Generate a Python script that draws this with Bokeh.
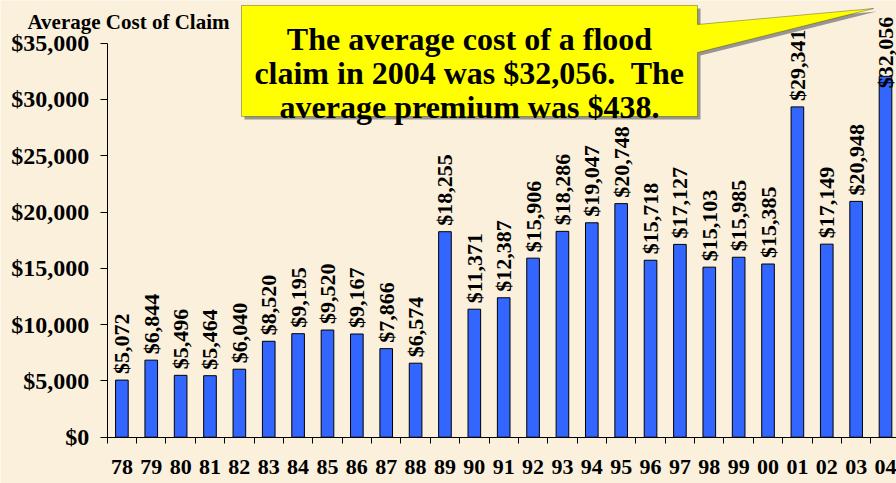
import numpy as np
from bokeh.plotting import figure
from bokeh.models import ColumnDataSource, FixedTicker, NumeralTickFormatter, Range1d, Label, PolyAnnotation
from bokeh.core.properties import value
from bokeh.embed import file_html
from bokeh.resources import INLINE

# ---- data ----
years = ["78", "79", "80", "81", "82", "83", "84", "85", "86", "87", "88", "89",
         "90", "91", "92", "93", "94", "95", "96", "97", "98", "99", "00", "01",
         "02", "03", "04"]
costs = [5072, 6844, 5496, 5464, 6040, 8520, 9195, 9520, 9167, 7866, 6574, 18255,
         11371, 12387, 15906, 18286, 19047, 20748, 15718, 17127, 15103, 15985, 15385, 29341,
         17149, 20948, 32056]
y_ticks = [0, 5000, 10000, 15000, 20000, 25000, 30000, 35000]
title_text = "Average Cost of Claim"
callout_lines = ["The average cost of a flood",
                 "claim in 2004 was $32,056.\u00a0 The",
                 "average premium was $438."]

# ---- layout helpers (canvas pixel -> data coordinates) ----
W, H = 896, 483
X0, DX = 106.7, 29.37          # canvas x of x=-0.5, pixels per category
Y0, DY = 436.7, 394.0 / 35000  # canvas y of $0, pixels per dollar


def px_x(ix):
    return -0.5 + (ix - X0) / DX


def px_y(iy):
    return (Y0 - iy) / DY


BG = "#FAF0DC"
FNAME = "Liberation Serif"

idx = list(range(len(years)))
# label offsets in screen pixels (last label sits lower, overlapping its bar as in the original)
label_offsets = [-6] * (len(years) - 1) + [12]
src = ColumnDataSource(dict(idx=idx, cost=costs, label=[f"${c:,}" for c in costs],
                            yoff=label_offsets))

p = figure(width=W, height=H,
           x_range=Range1d(px_x(0), px_x(W)), y_range=Range1d(px_y(H), px_y(0)),
           output_backend="svg", toolbar_location=None,
           min_border_left=0, min_border_right=0, min_border_top=0, min_border_bottom=0,
           background_fill_color=BG, border_fill_color=BG, outline_line_color=None)
p.grid.visible = False

p.vbar(x="idx", top="cost", width=0.43, source=src,
       fill_color="#3366FF", line_color="black", line_width=1)

p.text(x="idx", y="cost", text="label", source=src, angle=np.pi / 2,
       text_align="left", text_baseline="middle", y_offset="yoff",
       text_font=value(FNAME), text_font_style="bold", text_font_size="22px", text_color="black")

# x axis (drawn at y = 0 inside the frame)
xa = p.xaxis[0]
xa.fixed_location = 0
xa.bounds = (-0.5, px_x(W))
xa.ticker = FixedTicker(ticks=idx, minor_ticks=[i - 0.5 for i in range(len(years) + 1)])
xa.major_label_overrides = {i: y for i, y in zip(idx, years)}
xa.major_tick_out = 0
xa.major_tick_in = 0
xa.minor_tick_out = 6
xa.minor_tick_in = 0
xa.minor_tick_line_color = "black"
xa.axis_line_color = "black"
xa.major_label_standoff = 17
xa.major_label_text_font = FNAME
xa.major_label_text_font_style = "bold"
xa.major_label_text_font_size = "22px"
xa.major_label_text_color = "black"

# y axis (drawn at x = -0.5 inside the frame)
ya = p.yaxis[0]
ya.fixed_location = -0.5
ya.ticker = FixedTicker(ticks=y_ticks, minor_ticks=[])
ya.formatter = NumeralTickFormatter(format="$0,0")
ya.bounds = (min(y_ticks), max(y_ticks))
ya.major_tick_out = 7
ya.major_tick_in = 0
ya.minor_tick_line_color = None
ya.axis_line_color = "black"
ya.major_tick_line_color = "black"
ya.major_label_standoff = 11
ya.major_label_text_font = FNAME
ya.major_label_text_font_style = "bold"
ya.major_label_text_font_size = "24px"
ya.major_label_text_color = "black"

# title
p.add_layout(Label(x=px_x(27), y=px_y(21), text=title_text, text_align="left",
                   text_baseline="alphabetic", text_font=FNAME, text_font_style="bold",
                   text_font_size="21px", text_color="black"))

# callout (shadow + box with pointer)
cx = [241, 697, 697, 873, 697, 697, 241]
cy = [5, 5, 24, 8, 52, 116, 116]
p.add_layout(PolyAnnotation(xs=[px_x(v + 3) for v in cx], ys=[px_y(v + 3) for v in cy],
                            fill_color="#808080", fill_alpha=0.8, line_color=None))
p.add_layout(PolyAnnotation(xs=[px_x(v) for v in cx], ys=[px_y(v) for v in cy],
                            fill_color="#FFFF00", fill_alpha=1.0, line_color="black", line_width=1))
for line, base in zip(callout_lines, [38.5, 72.5, 106]):
    p.add_layout(Label(x=px_x(469), y=px_y(base), text=line, text_align="center",
                       text_baseline="alphabetic", text_font=FNAME, text_font_style="bold",
                       text_font_size="32px", text_color="black"))

open("out.html", "w").write(file_html(p, INLINE))
